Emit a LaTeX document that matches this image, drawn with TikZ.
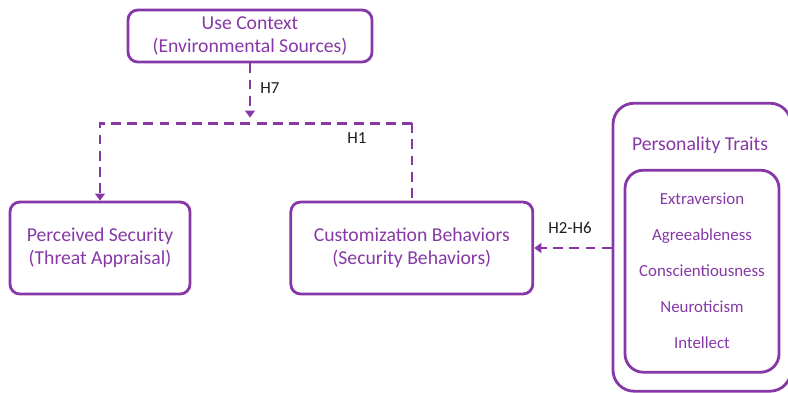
\documentclass[tikz,border=0pt]{standalone}
\usepackage{fontspec}
\setmainfont{Carlito}
\usepackage{tikz}
\usetikzlibrary{arrows.meta,positioning}
\definecolor{hpurple}{RGB}{134,56,166}
\definecolor{hlabel}{RGB}{30,30,30}
\tikzset{
  construct/.style={rectangle, rounded corners=7pt, draw=hpurple, line width=2pt, text=hpurple, align=center, font=\fontsize{14}{16.5}\selectfont},
  traitbox/.style={rectangle, draw=hpurple, line width=2pt},
  trait/.style={text=hpurple, font=\fontsize{12}{14}\selectfont, text height=1.6ex, text depth=0.4ex},
  hyp/.style={hpurple, line width=2pt, dash pattern=on 7pt off 4.5pt},
  hyparrow/.style={hyp, -{Triangle[length=5pt,width=7pt]}},
  hlab/.style={text=hlabel, font=\fontsize{12}{14}\selectfont}
}
\begin{document}
\begin{tikzpicture}
\useasboundingbox (0,0) rectangle (19.7,-9.8);

% constructs
\node (context) [construct, minimum width=6.1cm, minimum height=1.3cm] at (6.25,-0.9) {Use Context\\(Environmental Sources)};
\node (security) [construct, minimum width=4.5cm, minimum height=2.3cm] at (2.5,-6.2) {Perceived Security\\(Threat Appraisal)};
\node (custom) [construct, minimum width=6.05cm, minimum height=2.3cm, right=3.2cm of security.east, anchor=west, xshift=-0.75cm] {Customization Behaviors\\(Security Behaviors)};

% personality traits
\node (traits) [traitbox, rounded corners=15pt, minimum width=4.45cm, minimum height=7.2cm] at (17.55,-6.18) {};
\node (traitstitle) [trait, font=\fontsize{14}{16}\selectfont] at (17.5,-3.65) {Personality Traits};
\node (inner) [traitbox, rounded corners=13pt, minimum width=3.85cm, minimum height=5.05cm] at (17.55,-6.78) {};
\node (extra) [trait] at (17.55,-5.0) {Extraversion};
\node (agree) [trait, below=0.32cm of extra] {Agreeableness};
\node (consc) [trait, below=0.32cm of agree] {Conscientiousness};
\node (neuro) [trait, below=0.32cm of consc] {Neuroticism};
\node (intel) [trait, below=0.32cm of neuro] {Intellect};

% hypothesised paths
\coordinate (split) at (6.25,-3.08);
\coordinate (h1left) at (security.north |- split);
\coordinate (h1right) at (10.3,-3.08);
\draw[hyparrow] (context.south) -- ([yshift=4pt]split);
\node (h7) [hlab] at (6.75,-2.2) {H7};
\draw[hyparrow] (h1right) -- (h1left) -- (security.north);
\draw[hyp] (h1right) -- (h1right |- custom.north);
\node (h1) [hlab] at (8.92,-3.45) {H1};
\draw[hyparrow] (traits.west |- custom.east) -- (custom.east);
\node (h26) [hlab] at (14.25,-5.7) {H2-H6};
\end{tikzpicture}
\end{document}
